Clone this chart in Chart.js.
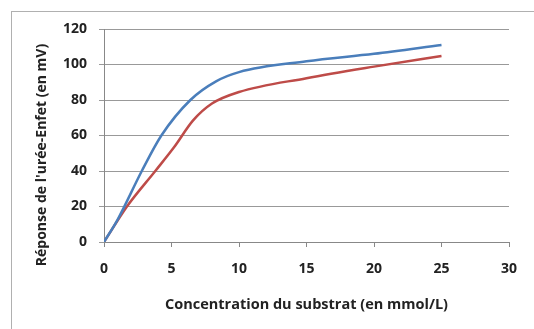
<!DOCTYPE html>
<html>
<head>
<meta charset="utf-8">
<script src="https://cdn.jsdelivr.net/npm/chart.js@4.4.0/dist/chart.umd.min.js"></script>
<style>
	html, body { margin: 0; padding: 0; background: #fff; }
	#wrap { position: relative; width: 534px; height: 329px; overflow: hidden; }
	#frame { position: absolute; left: 11px; top: 11px; width: 600px; height: 400px; border: 1px solid #b0b0b0; }
	#chart { position: absolute; left: 0; top: 0; }
</style>
</head>
<body>
<div id="wrap">
	<div id="frame"></div>
	<canvas id="chart" width="534" height="329"></canvas>
</div>
<script>
// substrate concentration (mmol/L) and electrode response (mV)
var concBlue = [0, 1, 2.8, 4.25, 6.4, 8.3, 10, 15, 20, 25];
var respBlue = [0, 12.5, 40, 60, 80, 90.5, 95.7, 101.8, 106, 111];

var concRed = [0, 1.7, 3.8, 5.2, 6.6, 8, 10, 15, 20, 25];
var respRed = [0, 20, 40, 53.5, 68.5, 78, 84.5, 92.3, 98.8, 104.8];

var xTicks = [0, 5, 10, 15, 20, 25, 30];
var yTicks = [0, 20, 40, 60, 80, 100, 120];

var yTitle = "Réponse de l'urée-Enfet (en mV)";
var xTitle = "Concentration du substrat (en mmol/L)";

function toPoints(xs, ys) {
	var pts = [];
	for (var i in xs) {
		pts.push({x: xs[i], y: ys[i]});
	}
	return pts;
}

var labelFont = {family: 'Open Sans', weight: 'bold', size: 14};

// rotated y title, drawn by hand so it can sit a bit lower than the scale centre
var yTitlePlugin = {
	id: 'yTitle',
	afterDraw: function(chart) {
		var c = chart.ctx;
		c.save();
		c.translate(42, 155);
		c.rotate(-Math.PI / 2);
		c.font = 'bold 14px "Open Sans"';
		c.fillStyle = '#222';
		c.textAlign = 'center';
		c.textBaseline = 'middle';
		c.fillText(yTitle, 0, 0);
		c.restore();
	}
};

var ctx = document.getElementById('chart');
var lineGraph = new Chart(ctx, {
	type: 'scatter',
	data: {
		datasets: [
			{
				data: toPoints(concBlue, respBlue),
				borderColor: '#4a7ebb',
				borderWidth: 2.5,
				showLine: true,
				pointRadius: 0,
				cubicInterpolationMode: 'monotone'
			},
			{
				data: toPoints(concRed, respRed),
				borderColor: '#be4b48',
				borderWidth: 2.5,
				showLine: true,
				pointRadius: 0,
				cubicInterpolationMode: 'monotone'
			}
		]
	},
	options: {
		responsive: false,
		animation: false,
		layout: {padding: {left: 0, top: 29, right: 25, bottom: 0}},
		plugins: {legend: {display: false}, tooltip: {enabled: false}},
		scales: {
			x: {
				type: 'linear',
				min: 0,
				max: 30,
				afterBuildTicks: function(s) { s.ticks = xTicks.map(function(v) { return {value: v}; }); },
				afterFit: function(s) { s.height = 87; },
				grid: {drawOnChartArea: false, drawTicks: true, tickLength: 5, color: '#888'},
				border: {color: '#888'},
				ticks: {font: labelFont, color: '#222', padding: 14, maxRotation: 0},
				title: {display: true, text: xTitle, font: {family: 'Open Sans', weight: 'bold', size: 14.5}, color: '#222', padding: {top: 0, bottom: 15}}
			},
			y: {
				min: 0,
				max: 120,
				afterBuildTicks: function(s) { s.ticks = yTicks.map(function(v) { return {value: v}; }); },
				afterFit: function(s) { s.width = 104; },
				grid: {color: '#999', tickLength: 5},
				border: {color: '#888'},
				ticks: {font: labelFont, color: '#222', padding: 12}
			}
		}
	},
	plugins: [yTitlePlugin]
});
</script>
</body>
</html>
